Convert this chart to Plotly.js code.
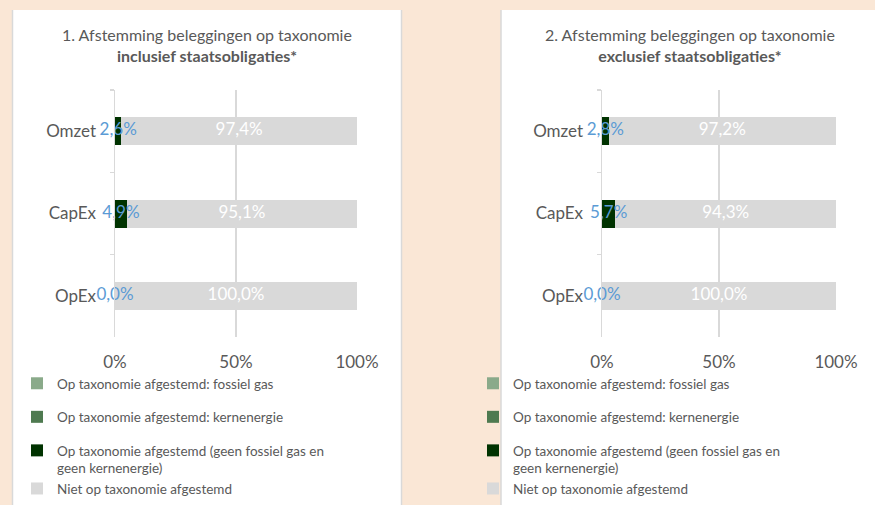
<!DOCTYPE html>
<html>
<head>
<meta charset="utf-8">
<script src="https://cdn.plot.ly/plotly-3.0.1.min.js"></script>
<style>html,body{margin:0;padding:0;background:#fae7d6;}#chart{width:875px;height:505px;}</style>
</head>
<body>
<div id="chart"></div>
<script>
// ---- data ----
const categories = ["Omzet", "CapEx", "OpEx"];
const seriesNames = [
  "Op taxonomie afgestemd: fossiel gas",
  "Op taxonomie afgestemd: kernenergie",
  "Op taxonomie afgestemd (geen fossiel gas en<br>geen kernenergie)",
  "Niet op taxonomie afgestemd"
];
// chart 1: inclusief staatsobligaties
const incl_fossielGas = [0, 0, 0];
const incl_kernenergie = [0, 0, 0];
const incl_geen = [2.6, 4.9, 0.0];
const incl_niet = [97.4, 95.1, 100.0];
// chart 2: exclusief staatsobligaties
const excl_fossielGas = [0, 0, 0];
const excl_kernenergie = [0, 0, 0];
const excl_geen = [2.8, 5.7, 0.0];
const excl_niet = [97.2, 94.3, 100.0];
const xTickVals = [0, 50, 100];
const xTickText = ["0%", "50%", "100%"];
const title1 = "1. Afstemming beleggingen op taxonomie<br><b>inclusief staatsobligaties*</b>";
const title2 = "2. Afstemming beleggingen op taxonomie<br><b>exclusief staatsobligaties*</b>";

// ---- styles ----
const W = 875, H = 505;
const colors = ["#8aaa8a", "#4e7a50", "#003300", "#d9d9d9"];
const groups = ["a", "b", "c", "c"];
const FONT = "Lato, 'Open Sans', sans-serif";
const gray = "#595959";
const fmt = v => v.toFixed(1).replace(".", ",") + "%";
const px = v => v / W, py = v => 1 - v / H;

function makeTraces(sets, xa, ya, legendId) {
  const traces = [];
  sets.forEach((vals, i) => {
    traces.push({
      type: "bar", orientation: "h", x: vals, y: categories,
      name: seriesNames[i], xaxis: xa, yaxis: ya,
      marker: {color: colors[i], line: {width: 0}},
      legendgroup: groups[i], legend: legendId,
      hoverinfo: "skip"
    });
  });
  const geen = sets[2], niet = sets[3];
  const base = sets[0].map((v, k) => v + sets[1][k]);
  traces.push({
    type: "scatter", mode: "text", xaxis: xa, yaxis: ya, showlegend: false, cliponaxis: false,
    x: geen.map((v, k) => base[k] + v / 2), y: categories,
    text: geen.map(fmt), textposition: "middle center",
    textfont: {family: FONT, size: 17, color: "#5b9bd5"}, hoverinfo: "skip"
  });
  traces.push({
    type: "scatter", mode: "text", xaxis: xa, yaxis: ya, showlegend: false, cliponaxis: false,
    x: niet.map((v, k) => base[k] + geen[k] + v / 2), y: categories,
    text: niet.map(fmt), textposition: "middle center",
    textfont: {family: FONT, size: 17, color: "#ffffff"}, hoverinfo: "skip"
  });
  return traces;
}

const data = [].concat(
  makeTraces([incl_fossielGas, incl_kernenergie, incl_geen, incl_niet], "x", "y", "legend"),
  makeTraces([excl_fossielGas, excl_kernenergie, excl_geen, excl_niet], "x2", "y2", "legend2")
);

const yDomain = [py(337), py(90)];
function xAxis(dom) {
  return {
    domain: dom, range: [0, 100], tickvals: xTickVals, ticktext: xTickText,
    showgrid: true, gridcolor: "#d9d9d9", gridwidth: 1.5, zeroline: false,
    showline: false, ticks: "", ticklabelstandoff: 13,
    tickfont: {family: FONT, size: 17, color: gray}, fixedrange: true
  };
}
function yAxis(anchor) {
  return {
    domain: yDomain, anchor: anchor, type: "category", categoryorder: "array",
    categoryarray: categories, autorange: "reversed",
    showline: true, linecolor: "#d9d9d9", linewidth: 1.5,
    ticks: "outside", tickson: "boundaries", ticklen: 4, tickcolor: "#d9d9d9", tickwidth: 1.5,
    ticklabelstandoff: 14, showgrid: false, zeroline: false,
    tickfont: {family: FONT, size: 17, color: gray}, fixedrange: true
  };
}
function legendAt(xpix) {
  return {
    x: px(xpix), y: py(368), xanchor: "left", yanchor: "top",
    orientation: "v", traceorder: "grouped", tracegroupgap: 13, valign: "top",
    bgcolor: "rgba(0,0,0,0)", font: {family: FONT, size: 13.5, color: gray}
  };
}

const layout = {
  width: W, height: H, margin: {l: 0, r: 0, t: 0, b: 0, autoexpand: false},
  paper_bgcolor: "#fae7d6", plot_bgcolor: "rgba(0,0,0,0)",
  barmode: "stack", bargap: 0.66, showlegend: true,
  xaxis: Object.assign(xAxis([px(115), px(357)]), {anchor: "y"}),
  yaxis: yAxis("x"),
  xaxis2: Object.assign(xAxis([px(602), px(836)]), {anchor: "y2"}),
  yaxis2: yAxis("x2"),
  legend: legendAt(17),
  legend2: legendAt(473),
  shapes: [
    {type: "rect", xref: "paper", yref: "paper", x0: px(12), x1: px(402), y0: 0, y1: py(10),
     fillcolor: "#ffffff", line: {width: 0}, layer: "below"},
    {type: "line", xref: "paper", yref: "paper", x0: px(12.5), x1: px(12.5), y0: 0, y1: py(10),
     line: {color: "#d9d9d9", width: 1.5}, layer: "below"},
    {type: "line", xref: "paper", yref: "paper", x0: px(401.5), x1: px(401.5), y0: 0, y1: py(10),
     line: {color: "#d9d9d9", width: 1.5}, layer: "below"},
    {type: "rect", xref: "paper", yref: "paper", x0: px(501), x1: 1, y0: 0, y1: py(10),
     fillcolor: "#ffffff", line: {width: 0}, layer: "below"},
    {type: "line", xref: "paper", yref: "paper", x0: px(501), x1: px(501), y0: 0, y1: py(10),
     line: {color: "#d9d9d9", width: 1.5}, layer: "below"}
  ],
  annotations: [
    {text: title1, xref: "paper", yref: "paper", x: px(207), y: py(45.5), xanchor: "center", yanchor: "middle",
     showarrow: false, font: {family: FONT, size: 16, color: gray}, align: "center"},
    {text: title2, xref: "paper", yref: "paper", x: px(690), y: py(45.5), xanchor: "center", yanchor: "middle",
     showarrow: false, font: {family: FONT, size: 16, color: gray}, align: "center"}
  ]
};

Plotly.newPlot("chart", data, layout, {displayModeBar: false, staticPlot: true});
</script>
</body>
</html>
